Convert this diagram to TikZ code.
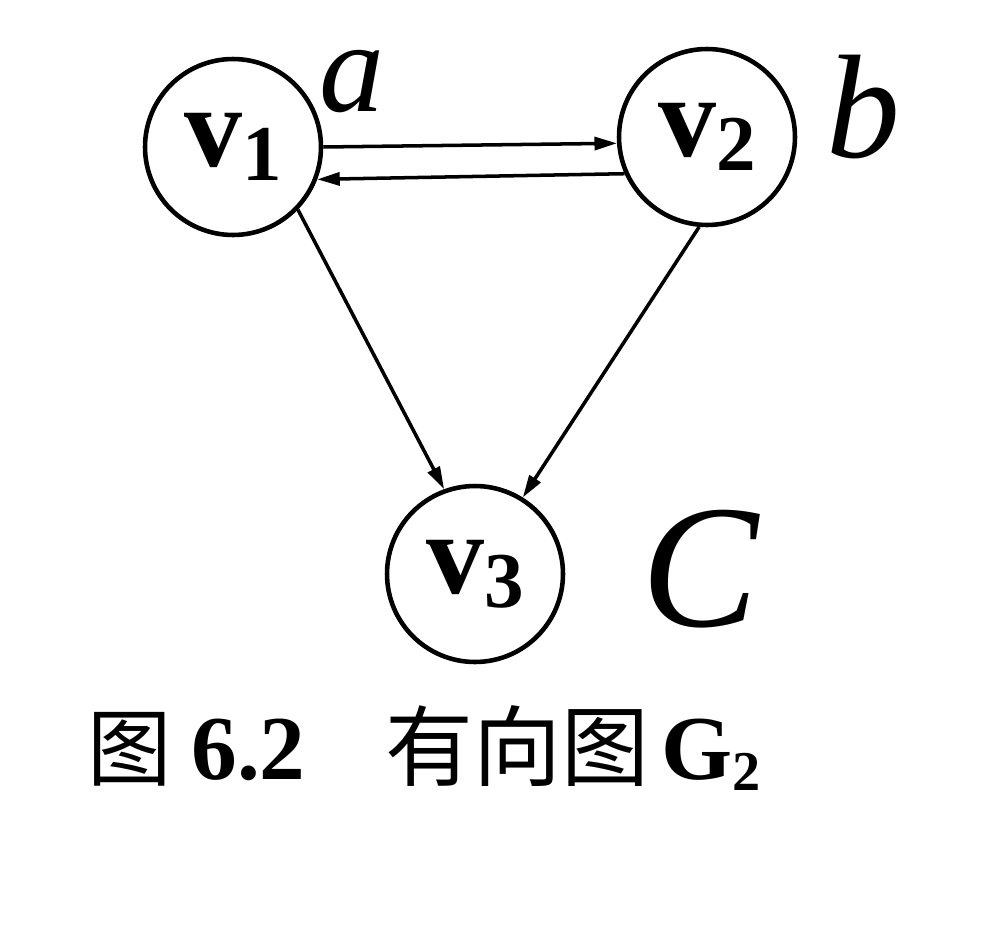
\documentclass[tikz,border=0pt]{standalone}
\usepackage{fontspec}
\setmainfont{Liberation Serif}
\newfontfamily\cjk{Noto Sans CJK SC}
\usetikzlibrary{arrows.meta}

\newcommand{\vname}[1]{v\raisebox{-8pt}{\fontsize{45}{45}\selectfont #1}}

\begin{document}
\begin{tikzpicture}[x=0.02cm, y=-0.02cm, >={Triangle[length=0.45cm, width=0.26cm]},
  every node/.style={align=center},
  vert/.style={draw, circle, line width=2.6pt, minimum size=3.52cm, inner sep=0pt, font=\bfseries\fontsize{66}{66}\selectfont},
  edge/.style={->, line width=2pt},
  hand/.style={inner sep=0pt, font=\itshape}]
\useasboundingbox (0,0) rectangle (990,946);
\node[vert] (v1) at (233,147) {\vname{1}};
\node[vert] (v2) at (707,137) {\vname{2}};
\node[vert] (v3) at (475,574) {\vname{3}};
% handwritten names
\node[hand, font=\itshape\fontsize{74}{74}\selectfont] (la) at (352,82) {a};
\node[hand, font=\itshape\fontsize{84}{84}\selectfont] (lb) at (863,107) {b};
\node[hand, font=\itshape\fontsize{100}{100}\selectfont] (lc) at (700,569) {C};
\draw[edge] (v1.0) -- (v2.184);
\draw[edge] (v2.204) -- (v1.-21);
\draw[edge] (v1.-44) -- (v3.110);
\draw[edge] (v2.-95) -- (v3.58);
\node[inner sep=0pt, font=\bfseries\fontsize{52}{52}\selectfont] (cap) at (424,748)
  {{\cjk\mdseries\fontsize{48}{48}\selectfont 图}\hspace{0.4cm}6.2\hspace{1.6cm}{\cjk\mdseries\fontsize{50}{50}\selectfont 有向图}\hspace{0.25cm}G\raisebox{-6pt}{\fontsize{32}{32}\selectfont 2}};
\end{tikzpicture}
\end{document}
